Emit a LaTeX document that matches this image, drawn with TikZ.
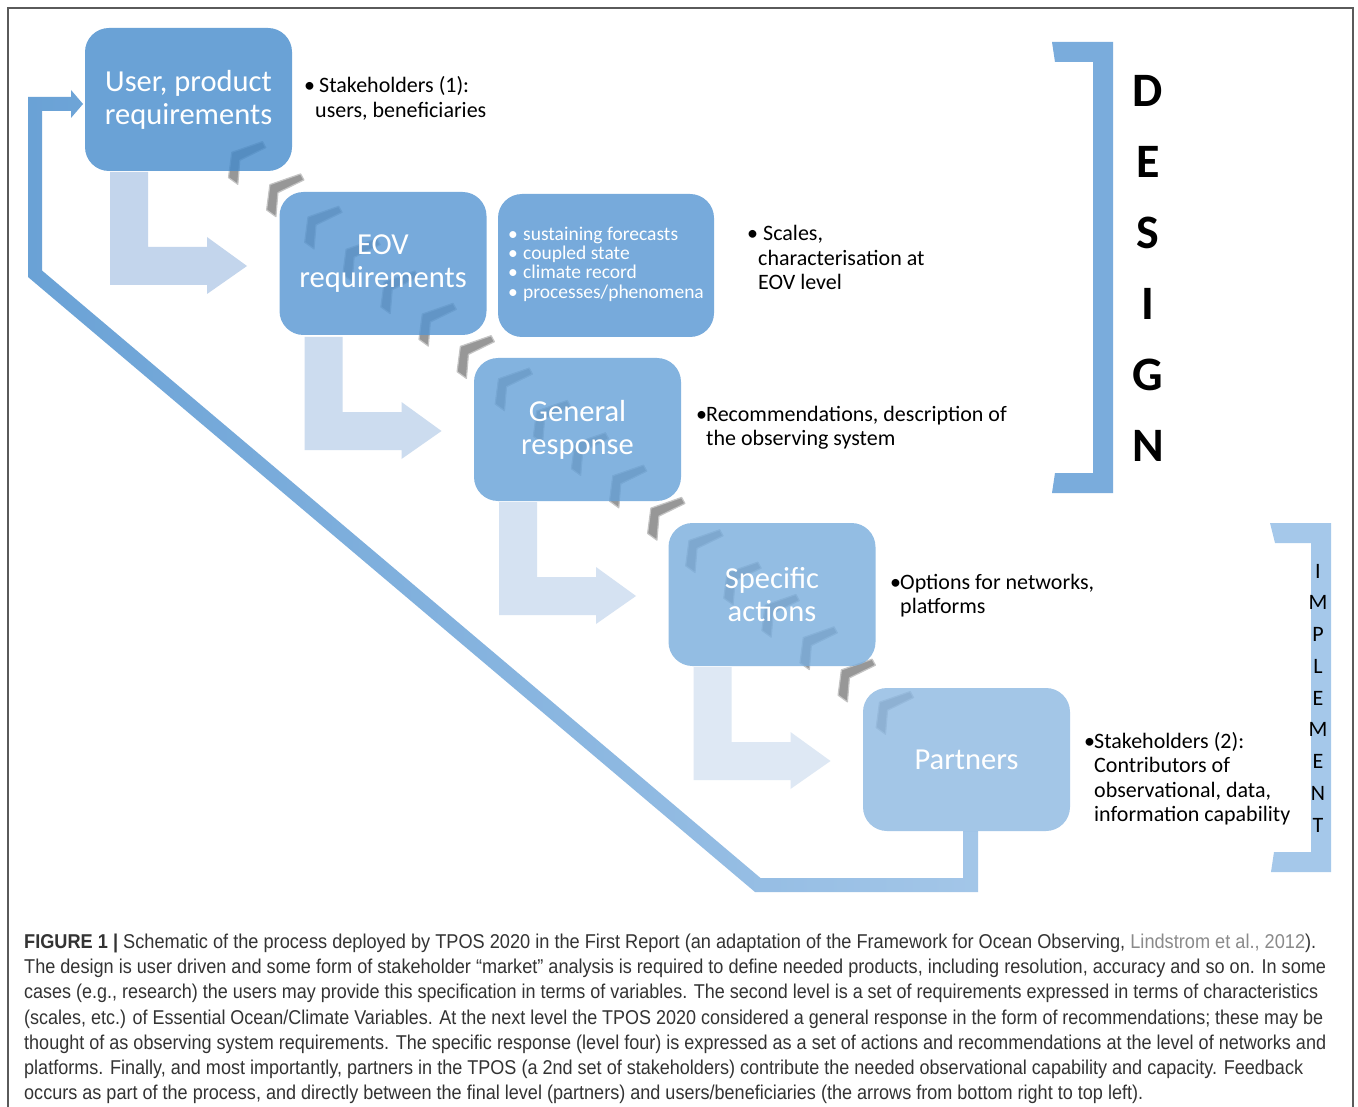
\documentclass[tikz,border=0pt]{standalone}
\usepackage{fontspec}
\usepackage{graphicx}
\setmainfont{Carlito}
\newfontfamily\capfont{Liberation Sans}
\definecolor{la1}{HTML}{C3D5EC}
\definecolor{la2}{HTML}{CCDCEF}
\definecolor{la3}{HTML}{D5E2F2}
\definecolor{la4}{HTML}{DEE8F4}
\definecolor{b1}{HTML}{458BCC}
\definecolor{b2}{HTML}{5595D2}
\definecolor{b3}{HTML}{65A1D8}
\definecolor{b4}{HTML}{78ADDD}
\definecolor{b5}{HTML}{8CB8E2}
\definecolor{fbA}{HTML}{6AA2D6}
\definecolor{fbB}{HTML}{A3C6E8}
\definecolor{brD}{HTML}{7AACDC}
\definecolor{brI}{HTML}{A5C8EA}
\definecolor{chevgray}{HTML}{979797}
\definecolor{chevedge}{HTML}{C4C4C4}
\definecolor{captext}{HTML}{333333}
\definecolor{caplink}{HTML}{8A8A8A}
\definecolor{framecol}{HTML}{5A5A5A}
\newcommand\mybul[1]{\makebox[#1][l]{\textbullet}}
\tikzset{
  box/.style={rounded corners=24pt, minimum width=207pt, minimum height=143pt,
    inner sep=0pt, fill opacity=0.8, text opacity=1, text=white,
    font=\fontsize{30.5}{33}\selectfont, align=center},
  side/.style={anchor=base west, inner sep=0pt, font=\fontsize{22}{24.5}\selectfont},
  chev/.style={fill=chevgray, draw=chevedge, line width=1.2pt, line join=round},
  letD/.style={inner sep=0pt, font=\fontsize{48}{48}\selectfont\bfseries},
  letI/.style={inner sep=0pt, font=\fontsize{22}{22}\selectfont},
  capline/.style={anchor=base west, inner sep=0pt, text=captext, font=\capfont\fontsize{20}{24}\selectfont},
}
\begin{document}
\begin{tikzpicture}[x=1pt,y=-1pt]
\useasboundingbox (0,0) rectangle (1358,1107);
\fill[white] (0,0) rectangle (1358,1107);
% frame
\draw[framecol, line width=1.3pt] (8,1107) -- (8,8) -- (1353,8) -- (1353,1107);

% light L-shaped process arrows
\foreach \i/\c in {0/la1,1/la2,2/la3,3/la4}{
  \begin{scope}[shift={(85+194.5*\i,27+165*\i)}]
    \fill[\c] (25,145)--(63,145)--(63,220)--(122,220)--(122,210)--(162,239)
      --(122,267)--(122,258)--(25,258)--cycle;
  \end{scope}
}

% feedback arrow
\shade[left color=fbA, right color=fbB]
  (978,831)--(978,892)--(755,892)--(28,277)--(28,97)--(71,97)--(71,90)
  --(83,104)--(71,118)--(71,111)--(42,111)--(42,270.5)--(760.5,878)
  --(963,878)--(963,831)--cycle;

% chevrons
\foreach \j in {-2,...,15}{
  \filldraw[chev, shift={(308+38.1*\j,217+32.35*\j)}]
    (0,0)--(30.7,-10.7)--(34,-4.7)--(8,8)--(6,32)--(-3.3,25.3)--cycle;
}

% boxes
\node[box, fill=b1] (ur) at (188.5,99.5) {User, product\\requirements};
\node[box, fill=b2] (eov) at (383,263.5) {EOV\\requirements};
\node[box, fill=b2, minimum width=216pt] (lst) at (606,265.5)
  {\fontsize{19.5}{19}\selectfont\begin{tabular}{@{}l@{}}
   \mybul{15pt}sustaining forecasts\\
   \mybul{15pt}coupled state\\
   \mybul{15pt}climate record\\
   \mybul{15pt}processes/phenomena\end{tabular}};
\node[box, fill=b3] (gr) at (577.5,429.5) {General\\response};
\node[box, fill=b4] (sa) at (772,594.5) {Specific\\actions};
\node[box, fill=b5] (pa) at (966.5,759.5) {Partners};

% side texts
\node[side] (t1) at (304,93) {\begin{tabular}[t]{@{}l@{}}
  \mybul{15pt}Stakeholders (1):\\ \hspace*{11pt}users, beneficiaries\end{tabular}};
\node[side] (t2) at (747,241) {\begin{tabular}[t]{@{}l@{}}
  \mybul{16pt}Scales,\\ \hspace*{11pt}characterisation at\\ \hspace*{11pt}EOV level\end{tabular}};
\node[side] (t3) at (696,421) {\begin{tabular}[t]{@{}l@{}}
  \mybul{10pt}Recommendations, description of\\ \hspace*{10pt}the observing system\end{tabular}};
\node[side] (t4) at (890,589) {\begin{tabular}[t]{@{}l@{}}
  \mybul{10pt}Options for networks,\\ \hspace*{10pt}platforms\end{tabular}};
\node[side] (t5) at (1084,748) {\begin{tabular}[t]{@{}l@{}}
  \mybul{10pt}Stakeholders (2):\\ \hspace*{10pt}Contributors of\\ \hspace*{10pt}observational, data,\\ \hspace*{10pt}information capability\end{tabular}};

% DESIGN bracket
\fill[brD] (1052,42)--(1113,42)--(1113,493)--(1052,493)--(1055,473)--(1093,473)
  --(1093,62)--(1055,62)--cycle;
\foreach \l [count=\k from 0] in {D,E,S,I,G,N}{
  \node[letD] (d\k) at (1148,91+71*\k) {\l};
}

% IMPLEMENT bracket
\fill[brI] (1270,523)--(1331,523)--(1331,872)--(1271,872)--(1274,852)--(1311,852)
  --(1311,543)--(1275,543)--cycle;
\foreach \l [count=\k from 0] in {I,M,P,L,E,M,E,N,T}{
  \node[letI] (i\k) at (1318,571+31.75*\k) {\l};
}

% caption
\node[capline] (c1) at (24,948.5) {\resizebox{1292pt}{\height}{{\bfseries FIGURE 1 |} Schematic of the process deployed by TPOS 2020 in the First Report (an adaptation of the Framework for Ocean Observing, {\color{caplink}Lindstrom et al., 2012}).}};
\node[capline] (c2) at (24,973.7) {\resizebox{1302pt}{\height}{The design is user driven and some form of stakeholder “market” analysis is required to define needed products, including resolution, accuracy and so on. In some}};
\node[capline] (c3) at (24,998.9) {\resizebox{1294pt}{\height}{cases (e.g., research) the users may provide this specification in terms of variables. The second level is a set of requirements expressed in terms of characteristics}};
\node[capline] (c4) at (24,1024.1) {\resizebox{1299pt}{\height}{(scales, etc.) of Essential Ocean/Climate Variables. At the next level the TPOS 2020 considered a general response in the form of recommendations; these may be}};
\node[capline] (c5) at (24,1049.3) {\resizebox{1302pt}{\height}{thought of as observing system requirements. The specific response (level four) is expressed as a set of actions and recommendations at the level of networks and}};
\node[capline] (c6) at (24,1074.5) {\resizebox{1279pt}{\height}{platforms. Finally, and most importantly, partners in the TPOS (a 2nd set of stakeholders) contribute the needed observational capability and capacity. Feedback}};
\node[capline] (c7) at (24,1099.7) {\resizebox{1119pt}{\height}{occurs as part of the process, and directly between the final level (partners) and users/beneficiaries (the arrows from bottom right to top left).}};
\end{tikzpicture}
\end{document}
